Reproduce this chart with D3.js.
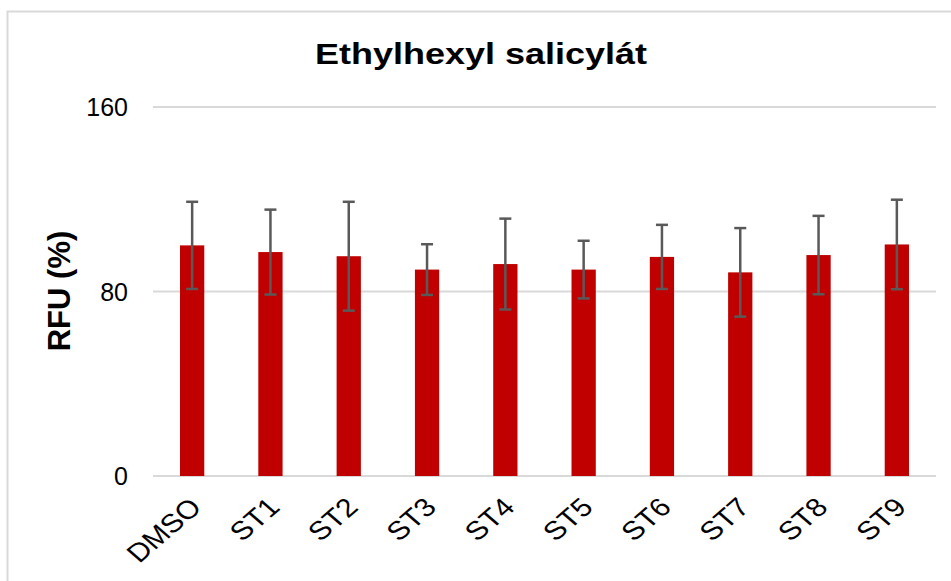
<!DOCTYPE html>
<html>
<head>
<meta charset="utf-8">
<script src="https://cdn.jsdelivr.net/npm/d3@7"></script>
<style>
  body { margin: 0; background: #fff; }
  text { font-family: "Liberation Sans", Arial, sans-serif; }
</style>
</head>
<body>
<div id="chart"></div>
<script>
// Data
const categories = ["DMSO", "ST1", "ST2", "ST3", "ST4", "ST5", "ST6", "ST7", "ST8", "ST9"];
const means = [100, 97.1, 95.3, 89.5, 91.9, 89.5, 95.0, 88.3, 95.8, 100.4];
const errors = [18.9, 18.4, 23.6, 11.0, 19.7, 12.5, 13.9, 19.2, 17.0, 19.4];
const yTicks = [0, 80, 160];

const W = 951, H = 581;
const margin = {top: 107, right: 15, bottom: 105, left: 153};
const width = 936 - margin.left;
const height = 476 - margin.top;

const svg = d3.select("#chart")
    .append("svg")
    .attr("width", W)
    .attr("height", H);

// Outer frame
svg.append("rect")
    .attr("x", 7.5)
    .attr("y", 11.5)
    .attr("width", W + 10)
    .attr("height", H + 10)
    .attr("fill", "none")
    .attr("stroke", "#d9d9d9")
    .attr("stroke-width", 2);

const g = svg.append("g")
    .attr("transform", `translate(${margin.left},${margin.top})`);

const x = d3.scaleBand()
    .domain(categories)
    .range([0, width])
    .paddingInner(0.69)
    .paddingOuter(0.345);

const y = d3.scaleLinear()
    .domain([0, 160])
    .range([height, 0]);

// Gridlines
g.selectAll(".grid")
    .data(yTicks)
    .enter()
    .append("line")
    .attr("x1", 0)
    .attr("x2", width)
    .attr("y1", d => y(d))
    .attr("y2", d => y(d))
    .attr("stroke", "#d9d9d9")
    .attr("stroke-width", 2);

// Y tick labels
g.selectAll(".ytick")
    .data(yTicks)
    .enter()
    .append("text")
    .attr("x", -25)
    .attr("y", d => y(d))
    .attr("dy", "0.36em")
    .attr("text-anchor", "end")
    .style("font-size", "25px")
    .attr("fill", "#000")
    .text(d => d);

// Bars
const data = categories.map((c, i) => ({cat: c, mean: means[i], err: errors[i]}));

g.selectAll(".bar")
    .data(data)
    .enter()
    .append("rect")
    .attr("x", d => x(d.cat))
    .attr("y", d => y(d.mean))
    .attr("width", x.bandwidth())
    .attr("height", d => height - y(d.mean))
    .attr("fill", "#c00000");

// Error bars
const cap = 6;
const eb = g.selectAll(".err")
    .data(data)
    .enter()
    .append("g")
    .attr("stroke", "#595959")
    .attr("stroke-width", 2.5);

eb.append("line")
    .attr("x1", d => x(d.cat) + x.bandwidth() / 2)
    .attr("x2", d => x(d.cat) + x.bandwidth() / 2)
    .attr("y1", d => y(d.mean + d.err))
    .attr("y2", d => y(d.mean - d.err));

eb.append("line")
    .attr("x1", d => x(d.cat) + x.bandwidth() / 2 - cap)
    .attr("x2", d => x(d.cat) + x.bandwidth() / 2 + cap)
    .attr("y1", d => y(d.mean + d.err))
    .attr("y2", d => y(d.mean + d.err));

eb.append("line")
    .attr("x1", d => x(d.cat) + x.bandwidth() / 2 - cap)
    .attr("x2", d => x(d.cat) + x.bandwidth() / 2 + cap)
    .attr("y1", d => y(d.mean - d.err))
    .attr("y2", d => y(d.mean - d.err));

// X labels, rotated (picture is slightly stretched horizontally)
g.selectAll(".xlabel")
    .data(categories)
    .enter()
    .append("text")
    .attr("text-anchor", "end")
    .attr("transform", d => `translate(${x(d) + x.bandwidth() / 2 - 4},${height + 20}) scale(1.16,1) rotate(-45)`)
    .attr("dy", "0.7em")
    .style("font-size", "26px")
    .attr("fill", "#000")
    .text(d => d);

// Title
svg.append("text")
    .attr("transform", "translate(481,64) scale(1.2,1)")
    .attr("text-anchor", "middle")
    .style("font-size", "30px")
    .style("font-weight", "bold")
    .attr("fill", "#000")
    .text("Ethylhexyl salicylát");

// Y axis label
svg.append("text")
    .attr("transform", "rotate(-90)")
    .attr("x", -291)
    .attr("y", 70)
    .attr("text-anchor", "middle")
    .style("font-size", "31px")
    .style("font-weight", "bold")
    .attr("fill", "#000")
    .text("RFU (%)");
</script>
</body>
</html>
